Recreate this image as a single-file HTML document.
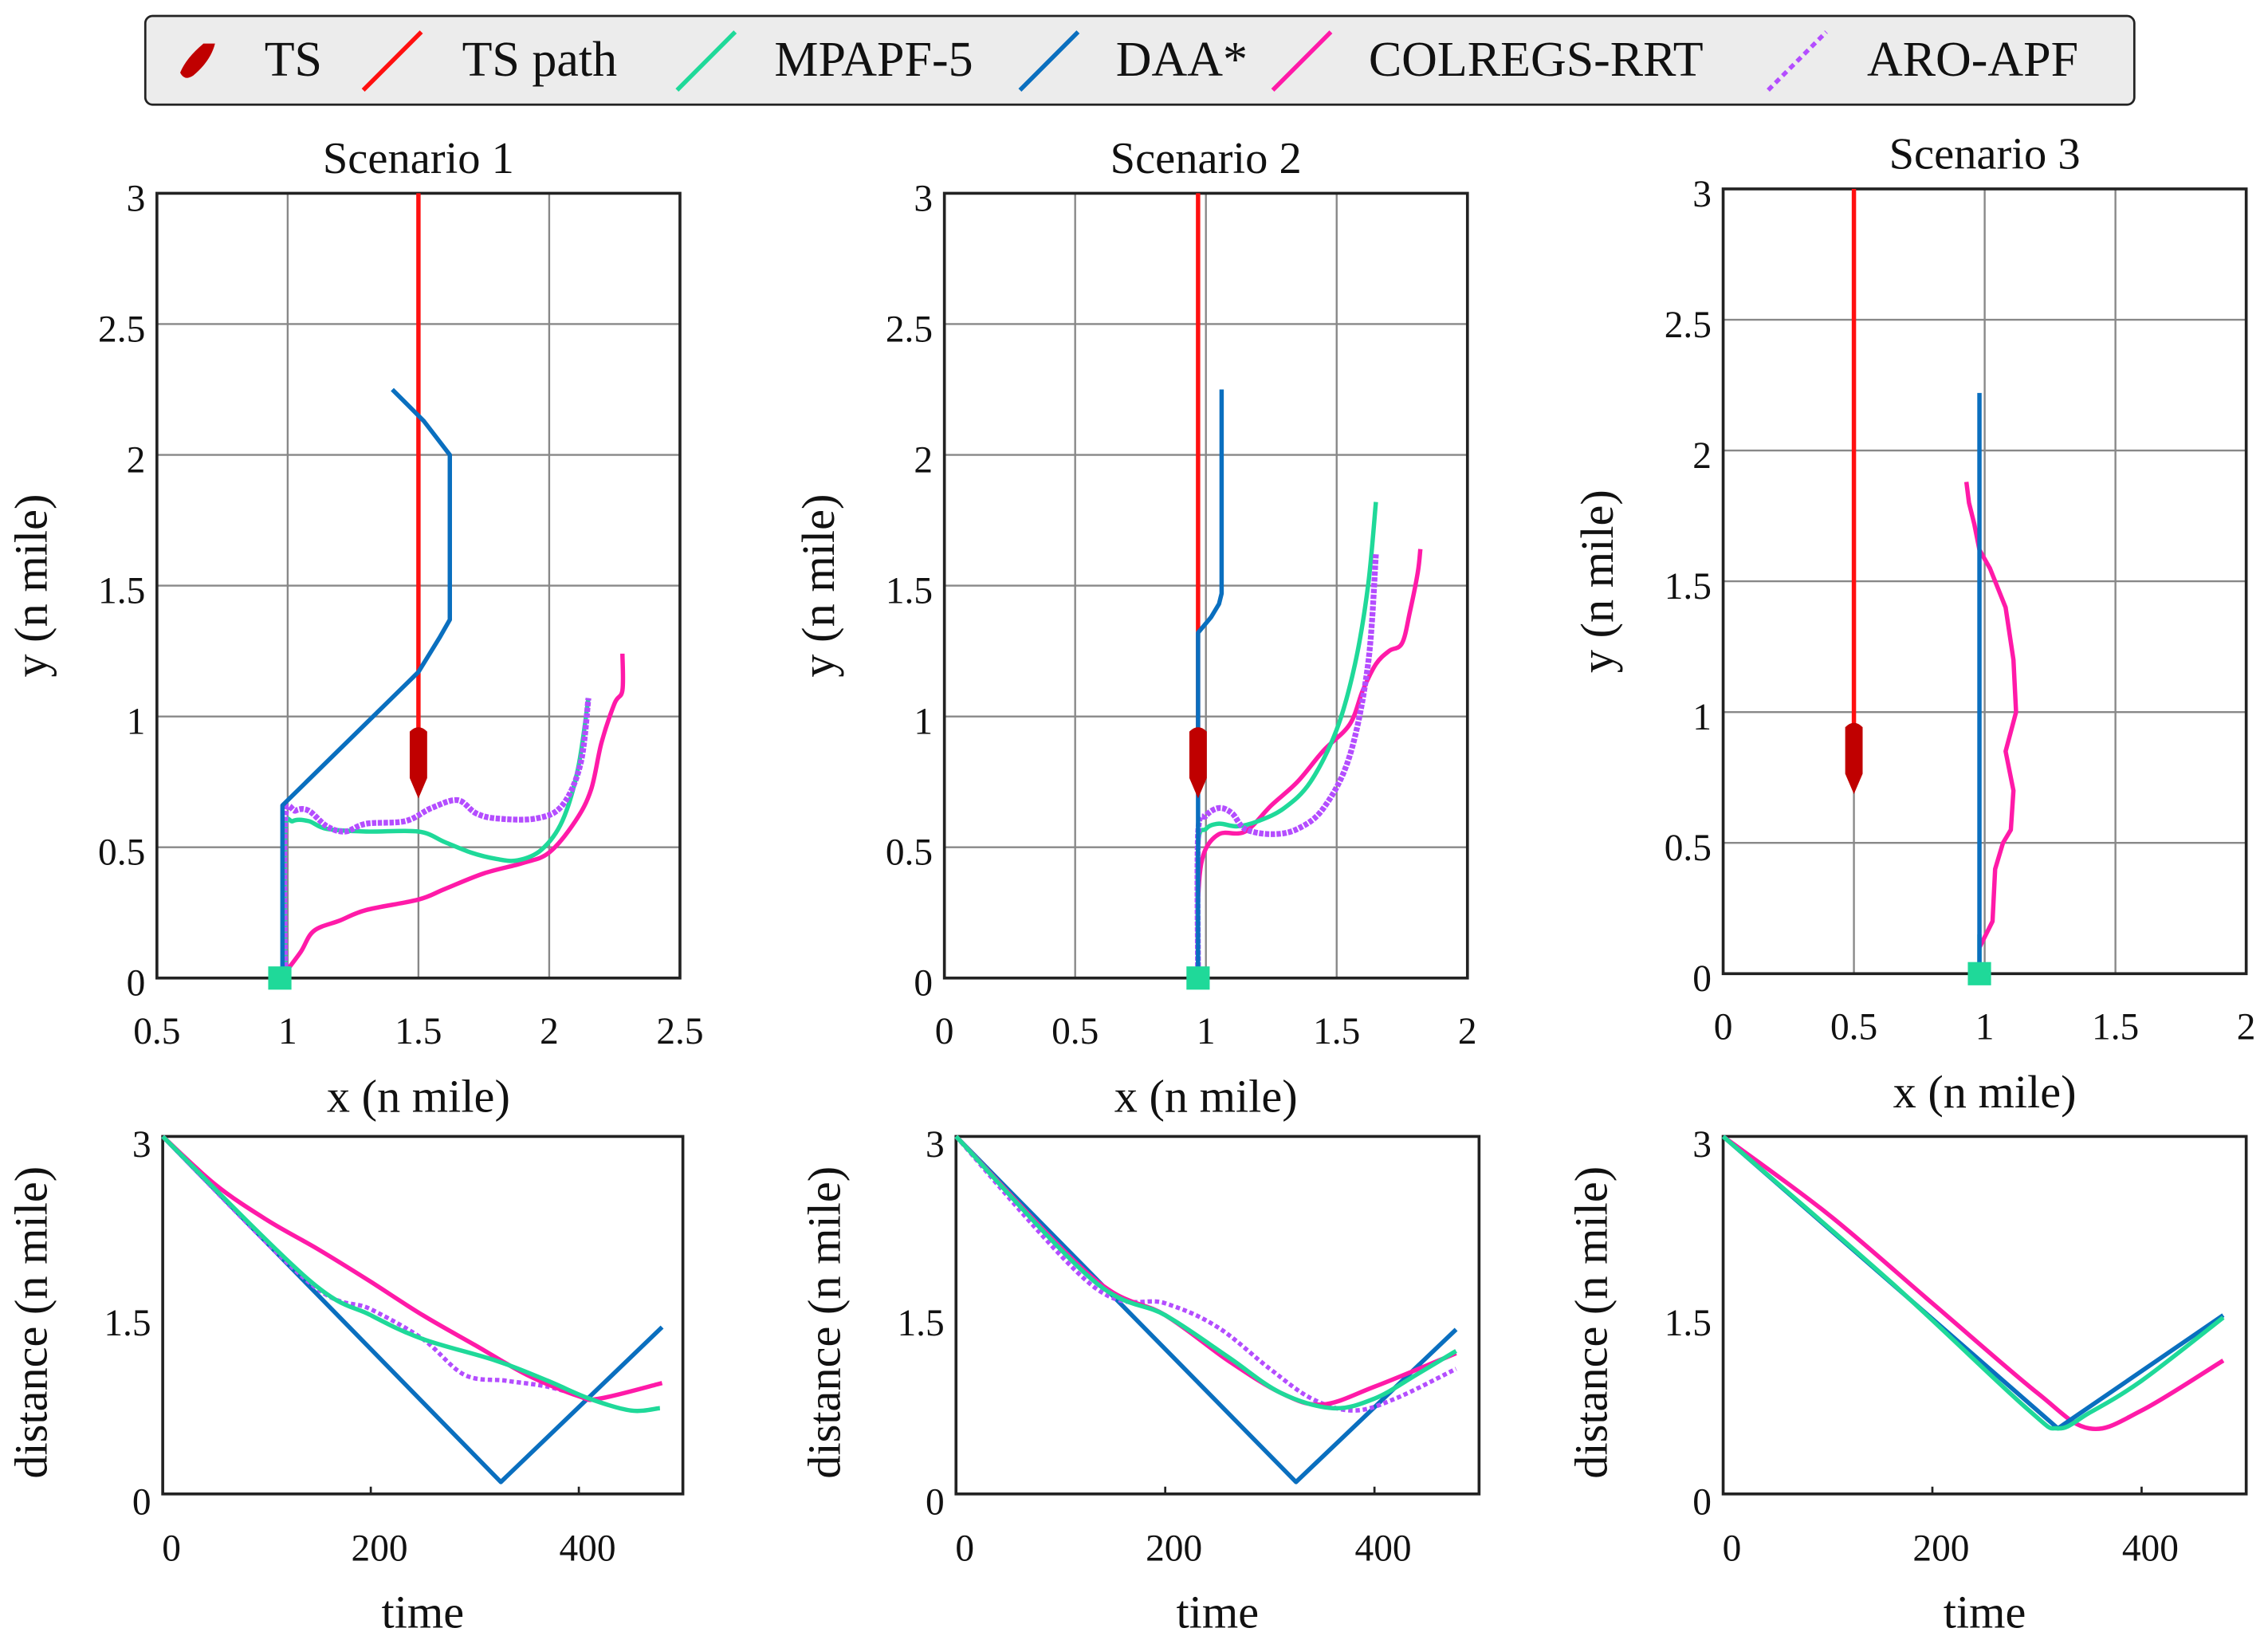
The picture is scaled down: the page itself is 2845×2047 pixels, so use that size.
<!DOCTYPE html>
<html><head><meta charset="utf-8"><style>
html,body{margin:0;padding:0;background:#fff}
svg{display:block}
text{font-family:"Liberation Serif",serif;fill:#111}
</style></head><body>
<svg id="chart" width="2845" height="2047" viewBox="0 0 1561 1123" preserveAspectRatio="none" xmlns="http://www.w3.org/2000/svg">
<g>
<rect x="100" y="11" width="1369" height="61" rx="5" fill="#ececec" stroke="#222" stroke-width="1.5"/>
<path d="M148,30 L140,30 Q128,40 124,50 Q127,56 133,52 Q145,42 148,30Z" fill="#c00000"/>
<text x="182" y="52" font-size="34">TS</text>
<line x1="250" y1="62" x2="290" y2="22" stroke="#ff1010" stroke-width="3"/>
<text x="318" y="52" font-size="34">TS path</text>
<line x1="466" y1="62" x2="506" y2="22" stroke="#1fd999" stroke-width="3"/>
<text x="533" y="52" font-size="34">MPAPF-5</text>
<line x1="702" y1="62" x2="742" y2="22" stroke="#0a6fbf" stroke-width="3"/>
<text x="768" y="52" font-size="34">DAA*</text>
<line x1="876" y1="62" x2="916" y2="22" stroke="#ff1aa8" stroke-width="3"/>
<text x="942" y="52" font-size="34">COLREGS-RRT</text>
<line x1="1217" y1="62" x2="1257" y2="22" stroke="#b44dff" stroke-width="3" stroke-dasharray="4,3"/>
<text x="1285" y="52" font-size="34">ARO-APF</text>
</g>
<g id="plots"></g>
</svg>
<script>
// ---------- Data: trajectory plots (x, y in n mile) ----------
const s1TsX = [1.5, 1.5];
const s1TsY = [3, 0.88];
const s1DaaX = [0.98, 0.98, 1.5, 1.58, 1.62, 1.62, 1.52, 1.4];
const s1DaaY = [0, 0.66, 1.17, 1.3, 1.37, 2.0, 2.13, 2.25];
const s1MpX = [0.99, 0.99, 1.02, 1.08, 1.15, 1.3, 1.5, 1.6, 1.7, 1.8, 1.88, 1.97, 2.05, 2.11, 2.15];
const s1MpY = [0, 0.55, 0.6, 0.6, 0.57, 0.56, 0.56, 0.52, 0.48, 0.455, 0.45, 0.49, 0.6, 0.8, 1.07];
const s1AroX = [0.99, 0.99, 1.03, 1.08, 1.15, 1.22, 1.3, 1.45, 1.55, 1.65, 1.72, 1.8, 1.95, 2.05, 2.12, 2.15];
const s1AroY = [0, 0.6, 0.64, 0.64, 0.58, 0.56, 0.59, 0.6, 0.65, 0.68, 0.63, 0.61, 0.61, 0.66, 0.82, 1.07];
const s1RrtX = [0.99, 1.05, 1.1, 1.2, 1.3, 1.5, 1.6, 1.75, 1.9, 2.0, 2.1, 2.16, 2.2, 2.25, 2.28, 2.28];
const s1RrtY = [0.02, 0.1, 0.18, 0.22, 0.26, 0.3, 0.34, 0.4, 0.44, 0.48, 0.6, 0.72, 0.9, 1.05, 1.1, 1.24];
const s1Ship = [1.5, 0.82];
const s1Start = [0.97, 0];

const s2TsX = [0.97, 0.97];
const s2TsY = [3, 0.9];
const s2DaaX = [0.97, 0.97, 1.02, 1.05, 1.06, 1.06];
const s2DaaY = [0, 1.32, 1.38, 1.43, 1.47, 2.25];
const s2MpX = [0.97, 0.97, 1.0, 1.05, 1.12, 1.2, 1.3, 1.4, 1.5, 1.57, 1.62, 1.65];
const s2MpY = [0, 0.5, 0.57, 0.59, 0.58, 0.6, 0.65, 0.75, 0.95, 1.2, 1.5, 1.82];
const s2AroX = [0.97, 0.97, 1.0, 1.05, 1.1, 1.15, 1.25, 1.35, 1.45, 1.55, 1.62, 1.65];
const s2AroY = [0, 0.55, 0.62, 0.65, 0.63, 0.57, 0.55, 0.57, 0.65, 0.85, 1.2, 1.62];
const s2RrtX = [0.97, 0.97, 0.99, 1.05, 1.15, 1.25, 1.35, 1.45, 1.55, 1.6, 1.65, 1.7, 1.75, 1.78, 1.81, 1.82];
const s2RrtY = [0.05, 0.3, 0.47, 0.55, 0.56, 0.66, 0.75, 0.87, 0.97, 1.1, 1.2, 1.25, 1.28, 1.4, 1.55, 1.64];
const s2Ship = [0.97, 0.82];
const s2Start = [0.97, 0];

const s3TsX = [0.5, 0.5];
const s3TsY = [3, 0.9];
const s3DaaX = [0.98, 0.98];
const s3DaaY = [0, 2.22];
const s3MpX = [0.98, 0.98];
const s3MpY = [0, 0.15];
const s3RrtX = [0.98, 1.03, 1.04, 1.07, 1.1, 1.11, 1.08, 1.12, 1.11, 1.08, 1.02, 0.98, 0.96, 0.94, 0.93];
const s3RrtY = [0.1, 0.2, 0.4, 0.5, 0.55, 0.7, 0.85, 1.0, 1.2, 1.4, 1.55, 1.62, 1.72, 1.8, 1.88];
const s3Ship = [0.5, 0.82];
const s3Start = [0.98, 0];

// ---------- Data: distance vs time ----------
const d1DaaT = [0, 325, 480];
const d1DaaD = [3, 0.1, 1.4];
const d1MpT = [0, 140, 200, 250, 320, 370, 410, 450, 478];
const d1MpD = [3, 1.8, 1.5, 1.3, 1.12, 0.95, 0.8, 0.7, 0.72];
const d1RrtT = [0, 50, 100, 150, 200, 250, 300, 350, 400, 420, 480];
const d1RrtD = [3, 2.6, 2.3, 2.05, 1.78, 1.5, 1.25, 1.0, 0.82, 0.8, 0.93];
const d1AroT = [0, 140, 200, 250, 290, 330, 370, 410];
const d1AroD = [3, 1.78, 1.55, 1.3, 1.0, 0.95, 0.9, 0.8];

const d2DaaT = [0, 325, 478];
const d2DaaD = [3, 0.1, 1.38];
const d2MpT = [0, 130, 200, 260, 310, 360, 400, 440, 478];
const d2MpD = [3, 1.8, 1.5, 1.15, 0.85, 0.72, 0.8, 1.0, 1.2];
const d2RrtT = [0, 130, 200, 260, 310, 350, 400, 478];
const d2RrtD = [3, 1.82, 1.5, 1.12, 0.85, 0.75, 0.9, 1.18];
const d2AroT = [0, 130, 200, 250, 300, 340, 380, 420, 478];
const d2AroD = [3, 1.75, 1.6, 1.4, 1.05, 0.8, 0.7, 0.8, 1.05];

const d3DaaT = [0, 320, 478];
const d3DaaD = [3, 0.55, 1.5];
const d3MpT = [0, 160, 290, 320, 350, 400, 478];
const d3MpD = [3, 1.78, 0.72, 0.55, 0.68, 0.95, 1.48];
const d3RrtT = [0, 100, 200, 300, 350, 400, 478];
const d3RrtD = [3, 2.35, 1.6, 0.85, 0.55, 0.7, 1.12];

const xTicks12 = [0.5, 1, 1.5, 2, 2.5];
const xTicks3 = [0, 0.5, 1, 1.5, 2];
const yTicksTop = [0, 0.5, 1, 1.5, 2, 2.5, 3];
const tTicks = [0, 200, 400];
const dTicks = [0, 1.5, 3];

const C = {ts:'#ff1010', mp:'#1fd999', daa:'#0a6fbf', rrt:'#ff1aa8', aro:'#b44dff'};
const NS = 'http://www.w3.org/2000/svg';
const root = document.getElementById('plots');
function mk(tag, attrs, parent){
  const e = document.createElementNS(NS, tag);
  for (const k in attrs) e.setAttribute(k, attrs[k]);
  (parent||root).appendChild(e); return e;
}
function fmt(v){ return String(v); }
function pathD(pts, smooth){
  if (!smooth || pts.length < 3) return pts.map((p,i)=>(i?'L':'M')+p[0].toFixed(1)+','+p[1].toFixed(1)).join(' ');
  let d = 'M'+pts[0][0].toFixed(1)+','+pts[0][1].toFixed(1);
  for (let i=0;i<pts.length-1;i++){
    const p0 = pts[i-1]||pts[i], p1=pts[i], p2=pts[i+1], p3=pts[i+2]||p2;
    const c1=[p1[0]+(p2[0]-p0[0])/6, p1[1]+(p2[1]-p0[1])/6];
    const c2=[p2[0]-(p3[0]-p1[0])/6, p2[1]-(p3[1]-p1[1])/6];
    d += ' C'+c1[0].toFixed(1)+','+c1[1].toFixed(1)+' '+c2[0].toFixed(1)+','+c2[1].toFixed(1)+' '+p2[0].toFixed(1)+','+p2[1].toFixed(1);
  }
  return d;
}

function topPlot(idx, L, T, W, H, xmin, xmax, ticks, title, series, ship, start){
  const sx = v => L + (v - xmin) / (xmax - xmin) * W;
  const sy = v => T + H - v / 3 * H;
  const g = mk('g', {});
  
  
  ticks.forEach(t => {
    const l = mk('line', {x1:sx(t), x2:sx(t), y1:T, y2:T+H, stroke:'#888', 'stroke-width':1.3}, g);
    
    
    const tx = mk('text', {x:sx(t), y:T+H+45, 'font-size':26, 'text-anchor':'middle'}, g);
    tx.textContent = fmt(t);
    
    
  });
  yTicksTop.forEach(t => {
    const l = mk('line', {x1:L, x2:L+W, y1:sy(t), y2:sy(t), stroke:'#888', 'stroke-width':1.3}, g);
    
    
    const tx = mk('text', {x:L-8, y:sy(t)+12, 'font-size':26, 'text-anchor':'end'}, g);
    tx.textContent = fmt(t);
    
    
  });
  const box = mk('rect', {x:L, y:T, width:W, height:H, fill:'none', stroke:'#222', 'stroke-width':2}, g);
  
  
  series.forEach(s => {
    const pts = s.x.map((v,i) => [sx(v), sy(s.y[i])]);
    const p = mk('path', {d:pathD(pts, s.smooth), fill:'none', stroke:s.c, 'stroke-width':s.w||3, 'stroke-linejoin':'round', 'stroke-dasharray':s.dash||'none'}, g);
    
    
  });
  const cx = sx(ship[0]), cy = sy(ship[1]);
  const sh = mk('path', {d:`M${cx-6},${cy-22} Q${cx},${cy-28} ${cx+6},${cy-22} L${cx+6},${cy+10} L${cx},${cy+24} L${cx-6},${cy+10}Z`, fill:'#c00000'}, g);
  
  
  const st = mk('rect', {x:sx(start[0])-8, y:sy(start[1])-8, width:16, height:16, fill:C.mp}, g);
  
  
  const tt = mk('text', {x:L+W/2, y:T-14, 'font-size':31, 'text-anchor':'middle'}, g);
  tt.textContent = title;
  
  
  const xl = mk('text', {x:L+W/2, y:T+H+92, 'font-size':32, 'text-anchor':'middle'}, g);
  xl.textContent = 'x (n mile)';
  
  
  const yx = L-76, yy = T+H/2;
  const yl = mk('text', {x:yx, y:yy, 'font-size':32, 'text-anchor':'middle', transform:`rotate(-90 ${yx} ${yy})`}, g);
  yl.textContent = 'y (n mile)';
  
  
}

function botPlot(idx, L, T, W, H, series){
  const tmax = 500;
  const sx = v => L + v / tmax * W;
  const sy = v => T + H - v / 3 * H;
  const g = mk('g', {});
  
  
  const box = mk('rect', {x:L, y:T, width:W, height:H, fill:'none', stroke:'#222', 'stroke-width':2}, g);
  
  
  tTicks.forEach(t => {
    const l = mk('line', {x1:sx(t), x2:sx(t), y1:T+H, y2:T+H-5, stroke:'#222', 'stroke-width':1.5}, g);
    
    
    const tx = mk('text', {x:sx(t)+6, y:T+H+46, 'font-size':26, 'text-anchor':'middle'}, g);
    tx.textContent = fmt(t);
    
    
  });
  dTicks.forEach(t => {
    const tx = mk('text', {x:L-8, y:sy(t)+14, 'font-size':26, 'text-anchor':'end'}, g);
    tx.textContent = fmt(t);
    
    
  });
  series.forEach(s => {
    const pts = s.x.map((v,i) => [sx(v), sy(s.y[i])]);
    const p = mk('path', {d:pathD(pts, s.smooth), fill:'none', stroke:s.c, 'stroke-width':s.w||3, 'stroke-linejoin':'round', 'stroke-dasharray':s.dash||'none'}, g);
    
    
  });
  const xl = mk('text', {x:L+W/2, y:T+H+92, 'font-size':32, 'text-anchor':'middle'}, g);
  xl.textContent = 'time';
  
  
  const yx = L-80, yy = T+H/2 + 5;
  const yl = mk('text', {x:yx, y:yy, 'font-size':32, 'text-anchor':'middle', transform:`rotate(-90 ${yx} ${yy})`}, g);
  yl.textContent = 'distance (n mile)';
  
  
}

topPlot(1, 108, 133, 360, 540, 0.5, 2.5, xTicks12, 'Scenario 1', [
  {name:'ts-path', x:s1TsX, y:s1TsY, c:C.ts},
  {name:'colregs-rrt-path', x:s1RrtX, y:s1RrtY, c:C.rrt, smooth:true},
  {name:'mpapf-5-path', x:s1MpX, y:s1MpY, c:C.mp, smooth:true},
  {name:'aro-apf-path', x:s1AroX, y:s1AroY, c:C.aro, w:4, dash:'3,1', smooth:true},
  {name:'daa-path', x:s1DaaX, y:s1DaaY, c:C.daa}
], s1Ship, s1Start);
topPlot(2, 650, 133, 360, 540, 0, 2, xTicks3, 'Scenario 2', [
  {name:'ts-path', x:s2TsX, y:s2TsY, c:C.ts},
  {name:'colregs-rrt-path', x:s2RrtX, y:s2RrtY, c:C.rrt, smooth:true},
  {name:'mpapf-5-path', x:s2MpX, y:s2MpY, c:C.mp, smooth:true},
  {name:'aro-apf-path', x:s2AroX, y:s2AroY, c:C.aro, w:4, dash:'3,1', smooth:true},
  {name:'daa-path', x:s2DaaX, y:s2DaaY, c:C.daa}
], s2Ship, s2Start);
topPlot(3, 1186, 130, 360, 540, 0, 2, xTicks3, 'Scenario 3', [
  {name:'ts-path', x:s3TsX, y:s3TsY, c:C.ts},
  {name:'mpapf-5-path', x:s3MpX, y:s3MpY, c:C.mp},
  {name:'colregs-rrt-path', x:s3RrtX, y:s3RrtY, c:C.rrt},
  {name:'daa-path', x:s3DaaX, y:s3DaaY, c:C.daa}
], s3Ship, s3Start);

botPlot(1, 112, 782, 358, 246, [
  {name:'daa-distance', x:d1DaaT, y:d1DaaD, c:C.daa},
  {name:'aro-apf-distance', x:d1AroT, y:d1AroD, c:C.aro, w:3, dash:'3,2', smooth:true},
  {name:'colregs-rrt-distance', x:d1RrtT, y:d1RrtD, c:C.rrt, smooth:true},
  {name:'mpapf-5-distance', x:d1MpT, y:d1MpD, c:C.mp, smooth:true}
]);
botPlot(2, 658, 782, 360, 246, [
  {name:'daa-distance', x:d2DaaT, y:d2DaaD, c:C.daa},
  {name:'aro-apf-distance', x:d2AroT, y:d2AroD, c:C.aro, w:3, dash:'3,2', smooth:true},
  {name:'colregs-rrt-distance', x:d2RrtT, y:d2RrtD, c:C.rrt, smooth:true},
  {name:'mpapf-5-distance', x:d2MpT, y:d2MpD, c:C.mp, smooth:true}
]);
botPlot(3, 1186, 782, 360, 246, [
  {name:'colregs-rrt-distance', x:d3RrtT, y:d3RrtD, c:C.rrt, smooth:true},
  {name:'daa-distance', x:d3DaaT, y:d3DaaD, c:C.daa},
  {name:'mpapf-5-distance', x:d3MpT, y:d3MpD, c:C.mp, smooth:true}
]);
</script>
</body></html>
